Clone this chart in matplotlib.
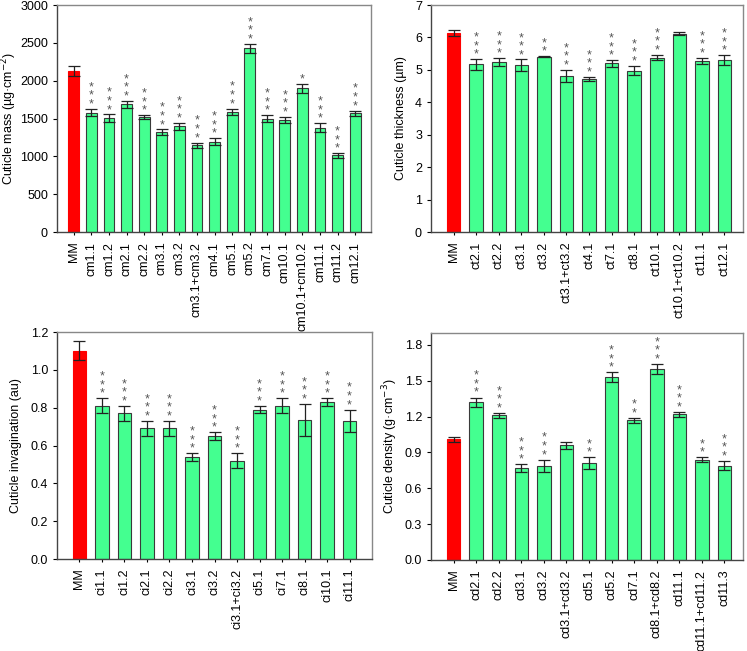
import numpy as np
import matplotlib
matplotlib.use("Agg")
import matplotlib.pyplot as plt

plt.rcParams['font.family'] = ['Liberation Sans', 'DejaVu Sans']

# cuticle mass
cm_labels = ["MM", "cm1.1", "cm1.2", "cm2.1", "cm2.2", "cm3.1", "cm3.2", "cm3.1+cm3.2",
             "cm4.1", "cm5.1", "cm5.2", "cm7.1", "cm10.1", "cm10.1+cm10.2", "cm11.1",
             "cm11.2", "cm12.1"]
cm_vals = [2129, 1579, 1504, 1689, 1517, 1320, 1399, 1148, 1196, 1592, 2428, 1496, 1482,
           1900, 1381, 1012, 1570]
cm_err = [70, 50, 50, 45, 25, 35, 45, 35, 45, 40, 60, 45, 40, 60, 55, 30, 35]
cm_sig = ["", "***", "***", "***", "***", "***", "***", "***", "***", "***", "***", "***",
          "***", "*", "***", "***", "***"]

# cuticle thickness
ct_labels = ["MM", "ct2.1", "ct2.2", "ct3.1", "ct3.2", "ct3.1+ct3.2", "ct4.1", "ct7.1",
             "ct8.1", "ct10.1", "ct10.1+ct10.2", "ct11.1", "ct12.1"]
ct_vals = [6.13, 5.17, 5.24, 5.14, 5.41, 4.82, 4.73, 5.20, 4.98, 5.38, 6.12, 5.28, 5.30]
ct_err = [0.09, 0.16, 0.12, 0.18, 0.02, 0.18, 0.06, 0.10, 0.15, 0.09, 0.04, 0.10, 0.15]
ct_sig = ["", "***", "***", "***", "**", "***", "***", "***", "***", "***", "", "***", "***"]

# cuticle invagination
ci_labels = ["MM", "ci1.1", "ci1.2", "ci2.1", "ci2.2", "ci3.1", "ci3.2", "ci3.1+ci3.2",
             "ci5.1", "ci7.1", "ci8.1", "ci10.1", "ci11.1"]
ci_vals = [1.10, 0.81, 0.77, 0.69, 0.69, 0.54, 0.65, 0.52, 0.79, 0.81, 0.735, 0.83, 0.73]
ci_err = [0.05, 0.04, 0.04, 0.04, 0.04, 0.02, 0.02, 0.04, 0.02, 0.04, 0.085, 0.02, 0.06]
ci_sig = ["", "***", "***", "***", "***", "***", "***", "***", "***", "***", "***", "***", "***"]

# cuticle density
cd_labels = ["MM", "cd2.1", "cd2.2", "cd3.1", "cd3.2", "cd3.1+cd3.2", "cd5.1", "cd5.2",
             "cd7.1", "cd8.1+cd8.2", "cd11.1", "cd11.1+cd11.2", "cd11.3"]
cd_vals = [1.01, 1.32, 1.21, 0.77, 0.79, 0.96, 0.81, 1.53, 1.17, 1.60, 1.22, 0.84, 0.79]
cd_err = [0.02, 0.04, 0.02, 0.03, 0.05, 0.03, 0.05, 0.04, 0.02, 0.04, 0.02, 0.02, 0.04]
cd_sig = ["", "***", "***", "***", "***", "", "**", "***", "**", "***", "***", "**", "***"]

RED = "#ff0000"
GREEN = "#44ff90"

fig = plt.figure(figsize=(7.47, 6.51), dpi=100)


def panel(rect, labels, vals, err, sig, ylabel, ylim, yticks, yfmt, xlim, width,
          star_off, label_x):
    ax = fig.add_axes(rect)
    x = np.arange(len(labels))
    colors = [RED] + [GREEN] * (len(labels) - 1)
    edges = [RED] + ["#3a3a3a"] * (len(labels) - 1)
    ax.bar(x, vals, width=width, color=colors, edgecolor=edges, linewidth=0.8, zorder=2)
    ax.errorbar(x, vals, yerr=err, fmt="none", ecolor="#222222", elinewidth=0.9,
                capsize=4, capthick=0.9, zorder=3)
    # stacked asterisks above the error bars
    for xi, v, e, s in zip(x, vals, err, sig):
        if s:
            ax.text(xi, v + e + star_off, "\n".join(s), ha="center", va="bottom",
                    linespacing=0.62, fontsize=9, color="#555555", zorder=4)
    ax.set_xlim(*xlim)
    ax.set_ylim(*ylim)
    ax.set_yticks(yticks)
    ax.set_yticklabels([yfmt.format(t) for t in yticks], fontsize=9)
    ax.set_xticks(x)
    ax.set_xticklabels(labels, rotation=90, fontsize=9)
    ax.tick_params(axis="x", length=2, pad=5)
    ax.tick_params(axis="y", length=3, direction="out")
    ax.set_ylabel(ylabel, fontsize=9)
    ax.yaxis.set_label_coords(label_x, 0.5)
    for sp in ax.spines.values():
        sp.set_color("#888888")
        sp.set_linewidth(1.0)
    ax.spines["left"].set_color("#444444")
    ax.spines["bottom"].set_color("#444444")
    return ax


panel([0.0763, 0.6436, 0.4204, 0.3487], cm_labels, cm_vals, cm_err, cm_sig,
      "Cuticle mass (µg·cm$^{-2}$)", (0, 3000), [0, 500, 1000, 1500, 2000, 2500, 3000],
      "{:.0f}", (-0.96, 16.9), 0.62, -20, -0.122)

panel([0.577, 0.6436, 0.4176, 0.3487], ct_labels, ct_vals, ct_err, ct_sig,
      "Cuticle thickness (µm)", (0, 7), [0, 1, 2, 3, 4, 5, 6, 7],
      "{:.0f}", (-1.0, 12.82), 0.6, -0.05, -0.077)

panel([0.0763, 0.1413, 0.4217, 0.3487], ci_labels, ci_vals, ci_err, ci_sig,
      "Cuticle invagination (au)", (0, 1.2), [0.0, 0.2, 0.4, 0.6, 0.8, 1.0, 1.2],
      "{:.1f}", (-1.0, 13.0), 0.6, -0.008, -0.111)

panel([0.577, 0.1398, 0.4176, 0.3487], cd_labels, cd_vals, cd_err, cd_sig,
      "Cuticle density (g·cm$^{-3}$)", (0, 1.9), [0.0, 0.3, 0.6, 0.9, 1.2, 1.5, 1.8],
      "{:.1f}", (-1.0, 12.82), 0.6, -0.012, -0.1)

fig.savefig("out.png", dpi=100)
